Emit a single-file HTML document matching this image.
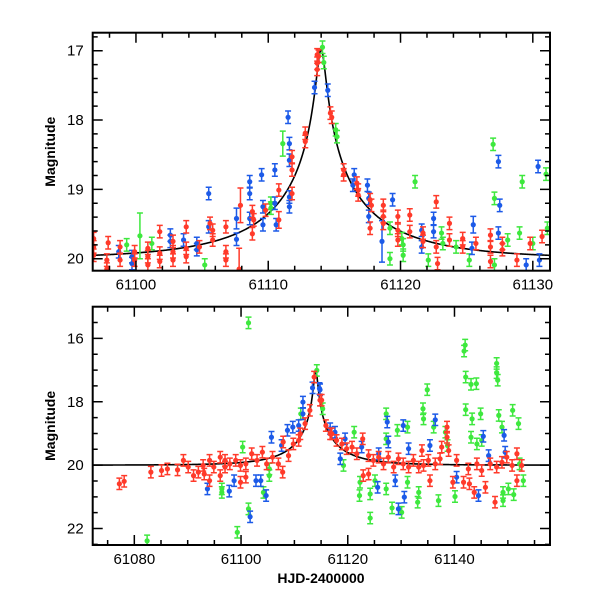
<!DOCTYPE html>
<html><head><meta charset="utf-8"><style>
html,body{margin:0;padding:0;background:#fff;}
svg{display:block;}
text{font-family:"Liberation Sans",sans-serif;fill:#000;}
</style></head><body>
<svg id="chart" width="600" height="600" viewBox="0 0 600 600" xmlns="http://www.w3.org/2000/svg">
<defs>
<clipPath id="clipTop"><rect x="92.7" y="32.7" width="457.3" height="238"/></clipPath>
<clipPath id="clipBot"><rect x="92.7" y="306.7" width="457.3" height="238.3"/></clipPath>
</defs>
</svg>
<script>
// ---- data: [HJD-2400000, magnitude, (optional error)] ----
const topRed=[[61096.8,19.71],[61096.8,19.83],[61096.8,19.95],[61097.9,19.77],[61097.8,20.02],[61097.8,20.15],[61098.8,19.83],[61098.8,20.02],[61099.9,19.90],[61099.9,20.02],[61100.9,19.85],[61100.9,19.97],[61100.9,20.09],[61101.8,19.61],[61101.8,19.92],[61101.8,20.04],[61102.8,19.75],[61102.8,19.90],[61102.8,20.02],[61103.8,19.54],[61103.8,19.85],[61103.8,19.97],[61104.8,19.83],[61105.6,19.49],[61105.8,19.59],[61105.8,19.73],[61106.8,19.54],[61106.8,19.90],[61106.8,20.02],[61107.9,19.23,0.25],[61107.8,20.15,0.3],[61108.8,19.32],[61108.8,19.64],[61108.9,19.44],[61109.8,19.30],[61110.8,19.01],[61110.8,19.44,0.12],[61111.8,18.53],[61111.8,18.72],[61111.8,19.06],[61112.8,18.19],[61112.8,18.31],[61113.7,17.06],[61113.7,17.18],[61113.7,17.27],[61113.8,17.08],[61114.7,17.90],[61114.8,17.96],[61115.7,18.72],[61115.7,18.79],[61116.7,18.91],[61116.8,19.01],[61116.8,19.08],[61117.7,19.15],[61117.8,19.23],[61117.7,19.56],[61118.7,19.23],[61118.7,19.39],[61118.7,19.49],[61119.8,19.39],[61119.8,19.59],[61119.8,19.73],[61120.7,19.37],[61120.7,19.61],[61121.7,19.63],[61121.7,19.75],[61122.7,19.18],[61122.7,19.83],[61122.8,20.07],[61123.7,19.49],[61123.7,19.73],[61124.7,19.71],[61124.7,19.83],[61125.7,19.78],[61126.8,19.66],[61126.8,19.83],[61126.8,20.04],[61127.7,19.78],[61127.7,19.87],[61128.8,20.02],[61129.8,19.78],[61130.7,19.68]];
const topBlue=[[61098.7,19.90],[61099.7,19.97],[61099.7,20.07],[61102.6,19.66],[61102.6,19.75],[61103.6,19.73],[61104.6,19.78],[61104.6,19.87],[61105.5,19.06],[61105.5,19.54],[61107.6,19.42,0.15],[61107.6,19.72],[61108.6,18.89],[61108.6,19.06],[61108.6,19.42],[61109.5,18.79],[61109.6,19.25],[61109.6,19.51],[61110.5,18.72],[61110.5,19.20],[61110.6,19.51],[61111.5,17.96],[61111.6,18.34],[61111.6,18.58],[61111.6,19.11],[61111.6,19.25],[61113.5,17.53],[61114.5,17.57],[61116.5,18.79],[61116.4,18.94],[61117.5,18.94],[61117.6,19.13],[61117.6,19.39],[61118.6,19.75,0.3],[61119.4,19.15],[61121.6,19.59],[61121.6,19.83],[61122.5,19.42],[61122.5,19.61],[61125.5,19.51,0.12],[61125.4,19.85],[61127.4,18.60],[61127.5,19.23],[61127.4,19.63],[61129.5,20.09],[61130.4,18.67],[61130.5,20.02]];
const topGreen=[[61099.3,19.80],[61100.3,19.67,0.33],[61101.2,19.78],[61105.2,20.09],[61110.2,19.20],[61110.2,19.27],[61111.1,18.34,0.18],[61114.1,16.95],[61114.2,17.17],[61115.1,18.14],[61115.2,18.24],[61119.2,19.56],[61119.2,20.00],[61120.1,19.71],[61120.2,19.80],[61120.2,19.95],[61121.1,18.89],[61122.1,20.02],[61123.1,19.63],[61123.2,19.78],[61124.2,19.83],[61125.2,20.02],[61127.0,18.35],[61127.1,19.13],[61127.1,20.09],[61128.1,19.73],[61129.0,19.63],[61129.2,18.89],[61130.0,19.78],[61131.0,18.78],[61131.1,19.56]];
const botRed=[[61077.2,20.59],[61078.1,20.51],[61083.1,20.22],[61085.1,20.17],[61086.2,20.12],[61088.1,20.15],[61089.2,19.85],[61090.1,20.06],[61091.1,20.33],[61092.0,20.22],[61092.9,20.01],[61093.1,20.28],[61094.1,19.85],[61094.1,20.49],[61094.9,20.06],[61096.1,19.75],[61096.1,20.33],[61097.0,19.85],[61097.0,20.06],[61097.9,19.96],[61099.0,19.85],[61099.9,20.01],[61099.9,20.54],[61100.9,20.38],[61100.9,19.96],[61102.0,19.64],[61103.0,19.85],[61104.0,19.59],[61104.8,19.96],[61105.9,19.75],[61107.0,19.96],[61107.8,20.22],[61107.9,19.27],[61108.9,19.70],[61109.8,19.33],[61110.8,19.22],[61111.1,19.01],[61112.0,18.69],[61112.9,18.27],[61113.7,17.22],[61114.8,17.95],[61115.9,18.75],[61116.7,19.01],[61115.1,17.95],[61117.0,19.01],[61117.9,19.22],[61118.9,19.33],[61119.8,19.48],[61120.8,19.43],[61121.7,19.64],[61122.8,19.17],[61122.9,20.33],[61123.9,19.70],[61123.9,20.28],[61124.8,19.85],[61125.8,19.75],[61126.7,19.96],[61127.6,19.75],[61128.6,20.06],[61129.5,19.80],[61130.4,19.96],[61131.4,20.06],[61132.3,19.85],[61133.3,20.06],[61133.9,19.54],[61134.2,20.01],[61135.1,19.85],[61135.4,20.49],[61136.4,19.96],[61137.3,19.80],[61137.6,19.43],[61138.6,18.80],[61138.6,19.12],[61138.9,19.54],[61139.7,20.54],[61140.4,19.85],[61141.7,20.54],[61142.6,20.12],[61142.8,20.59],[61143.7,20.86],[61144.2,19.96],[61145.1,20.17],[61145.8,20.70],[61146.7,19.96],[61147.6,21.17],[61147.9,20.06],[61148.9,19.91],[61149.8,19.75],[61150.8,20.01],[61151.7,19.64],[61151.7,20.49],[61152.6,20.01]];
const botBlue=[[61093.7,20.75],[61097.8,20.82],[61098.7,20.49],[61101.7,21.63],[61102.8,20.49],[61103.7,20.49],[61104.7,20.96],[61105.7,19.12],[61107.6,19.38],[61108.7,18.90],[61109.7,18.80],[61110.8,18.75],[61111.6,18.01],[61111.6,18.38],[61113.4,17.56],[61114.7,17.58],[61114.8,17.62],[61116.7,18.85],[61117.6,18.96],[61118.6,19.80],[61119.5,19.17],[61122.6,19.43],[61125.6,20.70],[61125.8,19.64],[61127.4,18.64],[61127.6,19.27],[61128.9,20.49],[61129.5,21.38],[61130.4,18.75],[61130.6,21.01],[61131.4,19.48],[61135.4,19.38],[61136.4,18.57],[61140.4,20.38],[61144.5,20.96],[61145.4,19.09],[61146.4,19.70],[61149.3,19.06],[61149.5,19.59]];
const botGreen=[[61082.4,22.39],[61096.4,20.86],[61096.4,20.75],[61099.3,22.12],[61100.3,19.43],[61101.4,15.51],[61101.4,21.38],[61104.2,20.86],[61105.3,20.33],[61105.3,20.12],[61111.2,18.38],[61114.2,17.01],[61115.3,18.22],[61119.2,20.01],[61121.2,18.96],[61122.2,20.96],[61122.3,20.54],[61124.2,20.91],[61124.2,21.67],[61125.1,20.49],[61127.2,18.38],[61127.2,19.17],[61127.2,20.75],[61128.3,21.35],[61129.3,18.90],[61130.1,21.49],[61131.2,18.80],[61131.2,20.54],[61133.1,21.17],[61133.3,20.86],[61134.1,18.22],[61134.2,18.54],[61134.9,17.62],[61136.1,18.80],[61137.0,21.12],[61138.3,18.96],[61138.7,19.38],[61140.1,20.99],[61142.0,16.21],[61141.8,16.40],[61142.1,17.22],[61142.1,18.25],[61143.1,17.45],[61143.3,18.54],[61143.1,19.12],[61144.1,17.43],[61144.2,19.33],[61144.9,18.38],[61145.1,19.22],[61147.9,16.79],[61147.9,17.08],[61148.1,17.32],[61148.3,18.43],[61148.9,18.80],[61149.1,20.86],[61149.1,21.12],[61150.1,20.75],[61150.9,18.27],[61151.1,20.93],[61152.0,18.69],[61152.2,19.96],[61152.9,20.49]];
// ---- model parameters ----
const modelParams=[61114.0,10,0.032,0.5,20.0]; // t0, tE, u0, fs, baseline
// ---- ticks ----
const topXTicks=[61100,61110,61120,61130];
const topYTicks=[17,18,19,20];
const botXTicks=[61080,61100,61120,61140];
const botYTicks=[16,18,20,22];

const NS="http://www.w3.org/2000/svg";
const svg=document.getElementById('chart');
function mk(tag,attrs,parent){const e=document.createElementNS(NS,tag);for(const k in attrs)e.setAttribute(k,attrs[k]);(parent||svg).appendChild(e);return e;}
function model(t){const [t0,tE,u0,fs,base]=modelParams;const tau=(t-t0)/tE;const u=Math.sqrt(tau*tau+u0*u0);const A=(u*u+2)/(u*Math.sqrt(u*u+4));return base-2.5*Math.log10(1+fs*(A-1));}
const COL={red:'#ff3a2a',blue:'#1c5ae8',green:'#3ee83e'};

function panel(cfg){
  const {L,R,T,B,x0,x1,y0,y1,name,clip,xt,yt,xmin,ymin,errDef}=cfg;
  const X=v=>L+(v-x0)/(x1-x0)*(R-L);
  const Y=v=>T+(v-y0)/(y1-y0)*(B-T);
  const g=mk('g',{});
  
  
  const pg=mk('g',{'clip-path':'url(#'+clip+')'},g);
  // model curve
  let d='';
  for(let i=0;i<=600;i++){const t=x0+(x1-x0)*i/600;d+=(i?'L':'M')+X(t).toFixed(2)+','+Y(model(t)).toFixed(2);}
  const c=mk('path',{d:d,fill:'none',stroke:'#000','stroke-width':1.6},pg);
  
  
  function series(arr,col,sname){
    const sg=mk('g',{},pg);
    
    
    arr.forEach(p=>{
      const x=X(p[0]),y=Y(p[1]);const e=p.length>2?p[2]:errDef;
      const ya=Y(p[1]-e),yb=Y(p[1]+e);
      const pt=mk('g',{},sg);
      
      
      mk('path',{d:`M${x},${ya}L${x},${yb}M${x-3},${ya}L${x+3},${ya}M${x-3},${yb}L${x+3},${yb}`,stroke:COL[col],'stroke-width':1.5,fill:'none'},pt);
      mk('circle',{cx:x,cy:y,r:2.6,fill:COL[col]},pt);
    });
  }
  series(cfg.green,'green','green-series');
  series(cfg.blue,'blue','blue-series');
  series(cfg.red,'red','red-series');
  // frame
  const fr=mk('rect',{x:L,y:T,width:R-L,height:B-T,fill:'none',stroke:'#000','stroke-width':2},g);
  
  
  // x ticks
  let td='';
  for(let v=Math.ceil(x0/xmin)*xmin;v<=x1;v+=xmin){const x=X(v);const major=xt.some(m=>Math.abs(m-v)<1e-6)||Math.abs(v%(xt[1]-xt[0]))<1e-6;const len=major?10:5;td+=`M${x},${B}L${x},${B-len}M${x},${T}L${x},${T+len}`;}
  for(let v=Math.ceil(y0/ymin-1e-9)*ymin;v<=y1+1e-9;v+=ymin){const y=Y(v);const major=Math.abs(v-Math.round(v/(yt[1]-yt[0]))*(yt[1]-yt[0]))<1e-6;const len=major?10:5;td+=`M${L},${y}L${L+len},${y}M${R},${y}L${R-len},${y}`;}
  const tk=mk('path',{d:td,stroke:'#000','stroke-width':1.5,fill:'none'},g);
  
  
  xt.forEach(v=>{const t=mk('text',{x:X(v),y:B+19,'text-anchor':'middle','font-size':15},g);t.textContent=v;
    
    });
  yt.forEach(v=>{const t=mk('text',{x:L-9,y:Y(v)+5,'text-anchor':'end','font-size':15},g);t.textContent=v;
    
    });
  const yl=mk('text',{x:0,y:0,'text-anchor':'middle','font-size':14,'font-weight':'bold',transform:`translate(55,${(T+B)/2}) rotate(-90)`},g);
  yl.textContent='Magnitude';
  
  
}
panel({L:92.7,R:550,T:32.7,B:270.7,x0:61096.73,x1:61131.3,y0:16.74,y1:20.173,name:'top-panel',clip:'clipTop',xt:topXTicks,yt:topYTicks,xmin:2,ymin:0.2,errDef:0.09,red:topRed,blue:topBlue,green:topGreen});
panel({L:92.7,R:550,T:306.7,B:545,x0:61072.2,x1:61157.9,y0:15.0,y1:22.52,name:'bottom-panel',clip:'clipBot',xt:botXTicks,yt:botYTicks,xmin:5,ymin:0.5,errDef:0.18,red:botRed,blue:botBlue,green:botGreen});
const xl=mk('text',{x:321,y:583,'text-anchor':'middle','font-size':14,'font-weight':'bold'});
xl.textContent='HJD-2400000';


</script>
</body></html>
